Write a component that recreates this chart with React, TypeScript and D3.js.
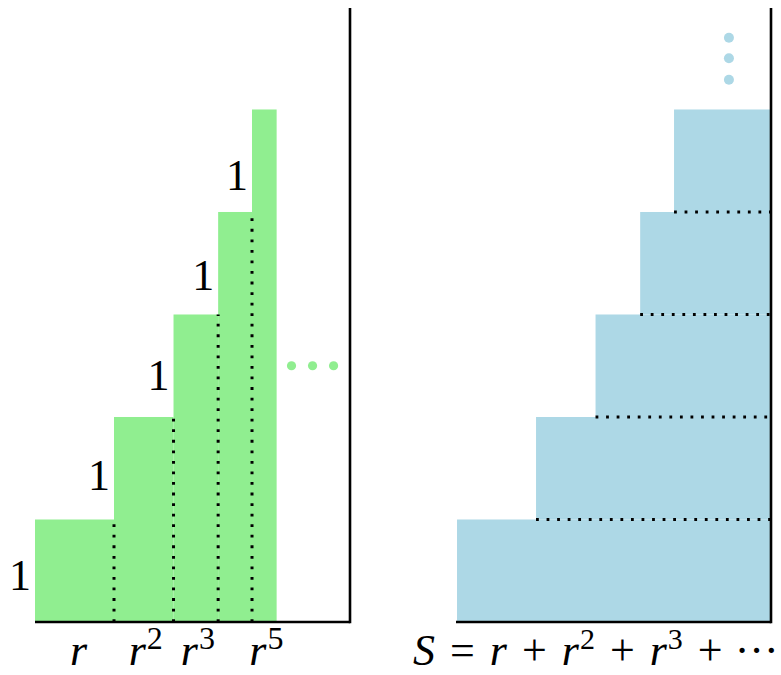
import React from "react";
import * as d3 from "d3";

// widths of the successive green bars: r, r^2, r^3, r^4, r^5
const barWidths = [0.77, 0.58, 0.435, 0.33, 0.24];
// each bar rises one unit above the previous
const stepHeights = [1, 1, 1, 1, 1];
// tick labels under the green bars (exponent; null = no label)
const labelExps: (string | null)[] = ["", "2", "3", null, "5"];
// total S (width of bottom blue row)
const totalS = 3.06;
// ellipsis dots
const greenDotsX = [2.5, 2.705, 2.91];
const greenDotsY = 2.5;
const blueDotsX = 0.41;
const blueDotsY = [5.7, 5.5, 5.29];

const W = 781;
const H = 675;
const GREEN = "#90EE90";
const BLUE = "#ADD8E6";
const FONT = "'Liberation Serif', 'Times New Roman', serif";

export default function App() {
  const yMax = 5.99;
  const y = d3.scaleLinear().domain([0, yMax]).range([622, 8]);
  const xL = d3.scaleLinear().domain([0, 3.07]).range([35, 350]);
  const xR = d3.scaleLinear().domain([0, 3.07]).range([771, 456]);

  const starts: number[] = [];
  let acc = 0;
  barWidths.forEach((w) => {
    starts.push(acc);
    acc += w;
  });
  const tops: number[] = [];
  let h = 0;
  stepHeights.forEach((s) => {
    h += s;
    tops.push(h);
  });
  const rowWidths = starts.map((s) => totalS - s);

  const dotted = { stroke: "#000", strokeWidth: 3, strokeDasharray: "2.8 7.75" };
  const tstyle = { fontFamily: FONT, fontSize: 44 } as React.CSSProperties;
  const tickStyle = { fontFamily: FONT, fontSize: 44 } as React.CSSProperties;
  const nb = "\u00a0";

  return (
    <svg
      width={W}
      height={H}
      style={{ position: "absolute", left: 0, top: 0, background: "#fff" }}
    >
      {barWidths.map((w, i) => (
        <rect
          key={"g" + i}
          x={xL(starts[i])}
          y={y(tops[i])}
          width={xL(starts[i] + w) - xL(starts[i])}
          height={y(0) - y(tops[i])}
          fill={GREEN}
        />
      ))}
      {barWidths.slice(0, -1).map((w, i) => (
        <line
          key={"vd" + i}
          x1={xL(starts[i] + w)}
          x2={xL(starts[i] + w)}
          y1={y(0)}
          y2={y(tops[i])}
          {...dotted}
        />
      ))}
      {barWidths.map((w, i) => (
        <text
          key={"one" + i}
          x={xL(starts[i]) - 4}
          y={y((tops[i] - stepHeights[i] / 2) * 0.976) + 18}
          textAnchor="end"
          style={tstyle}
        >
          1
        </text>
      ))}
      {barWidths.map((w, i) =>
        labelExps[i] === null ? null : (
          <text
            key={"lab" + i}
            x={xL(starts[i] + w / 2) + (labelExps[i] ? 2 : 4)}
            y={665}
            textAnchor="middle"
            style={tickStyle}
          >
            <tspan fontStyle="italic">r</tspan>
            {labelExps[i] ? (
              <tspan style={{ fontSize: 32 }} dx={1} dy={-16}>
                {labelExps[i]}
              </tspan>
            ) : null}
          </text>
        )
      )}
      {greenDotsX.map((d, i) => (
        <circle key={"gd" + i} cx={xL(d)} cy={y(greenDotsY)} r={4.6} fill={GREEN} />
      ))}
      <line x1={xL(0)} x2={xL(3.07)} y1={y(0)} y2={y(0)} stroke="#000" strokeWidth={2.6} />
      <line x1={xL(3.07)} x2={xL(3.07)} y1={y(0) + 1.3} y2={y(yMax)} stroke="#000" strokeWidth={2.6} />

      {rowWidths.map((w, i) => (
        <rect
          key={"b" + i}
          x={xR(w)}
          y={y(tops[i])}
          width={xR(0) - xR(w)}
          height={y(tops[i] - stepHeights[i]) - y(tops[i])}
          fill={BLUE}
        />
      ))}
      {rowWidths.slice(1).map((w, i) => (
        <line
          key={"hd" + i}
          x1={xR(w)}
          x2={xR(0)}
          y1={y(tops[i])}
          y2={y(tops[i])}
          {...dotted}
        />
      ))}
      {blueDotsY.map((d, i) => (
        <circle key={"bd" + i} cx={xR(blueDotsX)} cy={y(d)} r={5} fill={BLUE} />
      ))}
      <line x1={xR(3.07)} x2={xR(0)} y1={y(0)} y2={y(0)} stroke="#000" strokeWidth={2.6} />
      <line x1={xR(0)} x2={xR(0)} y1={y(0) + 1.3} y2={y(yMax)} stroke="#000" strokeWidth={2.6} />

      <text x={413} y={665} textAnchor="start" style={tstyle}>
        <tspan fontStyle="italic">S</tspan>
        <tspan dx={4}>{nb + "=" + nb}</tspan>
        <tspan dx={4} fontStyle="italic">r</tspan>
        <tspan dx={4}>{nb + "+" + nb}</tspan>
        <tspan dx={4} fontStyle="italic">r</tspan>
        <tspan style={{ fontSize: 30 }} dx={1} dy={-16}>2</tspan>
        <tspan dx={4} dy={16}>{nb + "+" + nb}</tspan>
        <tspan dx={4} fontStyle="italic">r</tspan>
        <tspan style={{ fontSize: 30 }} dx={1} dy={-16}>3</tspan>
        <tspan dx={4} dy={16}>{nb + "+" + nb}</tspan>
        <tspan dx={1}>···</tspan>
      </text>
    </svg>
  );
}
